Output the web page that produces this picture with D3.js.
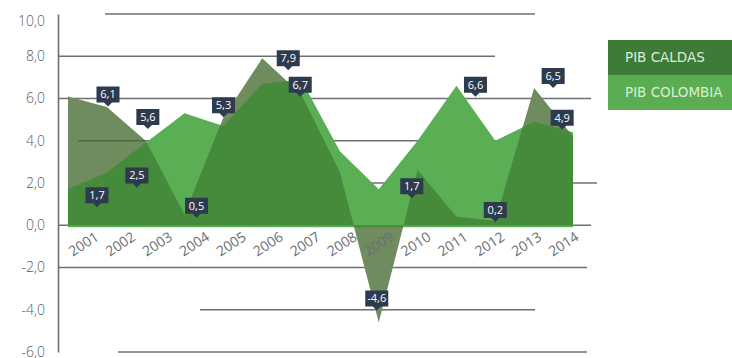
<!DOCTYPE html>
<html>
<head>
<meta charset="utf-8">
<script src="https://cdn.jsdelivr.net/npm/d3@7"></script>
<style>
  html, body { margin: 0; padding: 0; background: #ffffff; }
  svg { display: block; font-family: "Open Sans", Lato, sans-serif; }
</style>
</head>
<body>
<svg id="chart" width="732" height="358"></svg>
<script>
// Annual GDP growth (%), Caldas vs Colombia
const years = [2001, 2002, 2003, 2004, 2005, 2006, 2007, 2008, 2009, 2010, 2011, 2012, 2013, 2014];
const pibCaldas   = [6.1, 5.6, 4.0, 0.5, 5.1, 7.9, 6.2, 2.5, -4.6, 2.6, 0.4, 0.2, 6.5, 4.2];
const pibColombia = [1.7, 2.5, 3.9, 5.3, 4.7, 6.7, 6.9, 3.5, 1.7, 4.0, 6.6, 4.0, 4.9, 4.4];
const yTicks = [-6, -4, -2, 0, 2, 4, 6, 8, 10];
const seriesNames = ["PIB CALDAS", "PIB COLOMBIA"];

// Years that carry a value tag, per series
const caldasTagYears   = [2001, 2002, 2004, 2006, 2009, 2012, 2013];
const colombiaTagYears = [2001, 2002, 2004, 2006, 2009, 2011, 2013];

// Tag pointer nudges in px relative to the point [dx, dy]
const caldasTagNudge   = [[40, 10], [41, 22], [12, 3], [26, 12], [-2, -12], [0, 1], [19, 0]];
const colombiaTagNudge = [[29, 18], [30, 15], [39, 4], [38, 13], [33, 9], [19, 11], [28, 8]];

// Horizontal rule segments: [value, x-start, x-end] in px
const rules = [
  [10, 105, 535], [8, 58, 495], [6, 58, 591], [4, 78, 520],
  [2, 300, 597], [0, 58, 591], [-2, 58, 587], [-4, 200, 535], [-6, 118, 587]
];

const C = {
  light: "#5aae54",
  dark: "#468a3c",
  olive: "#6f8c5e",
  rule: "#6b7075",
  legendDark: "#3e7b36",
  legendLight: "#5aad51",
  tag: "#2c3b4d",
  text: "#575c61",
  xText: "#6a6f74"
};

const svg = d3.select("#chart");
const fmt = d3.formatLocale({ decimal: ",", thousands: ".", grouping: [3], currency: ["", ""], minus: "-" }).format(".1f");

const x = d3.scalePoint().domain(years).range([68, 573]);
const xLabel = d3.scalePoint().domain(years).range([83, 563]);
const y = d3.scaleLinear().domain([-6, 10]).range([352, 14]);

// rules behind the areas
svg.append("g").selectAll("line").data(rules).join("line")
  .attr("x1", d => d[1]).attr("x2", d => d[2])
  .attr("y1", d => y(d[0])).attr("y2", d => y(d[0]))
  .attr("stroke", C.rule).attr("stroke-width", 1.6);

const colData = years.map((yr, i) => ({ yr, v: pibColombia[i] }));
const calData = years.map((yr, i) => ({ yr, v: pibCaldas[i] }));

const colArea = d3.area().x(d => x(d.yr)).y0(y(0) + 2).y1(d => y(d.v));
const calArea = d3.area().x(d => x(d.yr)).y0(y(0)).y1(d => y(d.v));

const defs = svg.append("defs");
defs.append("clipPath").attr("id", "colClip")
  .append("path").attr("d", colArea(colData));

svg.append("path").attr("d", colArea(colData)).attr("fill", C.light);
svg.append("path").attr("d", calArea(calData)).attr("fill", C.olive);
svg.append("path").attr("d", calArea(calData)).attr("fill", C.dark)
  .attr("clip-path", "url(#colClip)");

// short rule that sits over the Caldas area
svg.append("line")
  .attr("x1", 78).attr("x2", x(2003))
  .attr("y1", y(4)).attr("y2", y(4))
  .attr("stroke", "#4d6a47").attr("stroke-width", 1.6);

// y axis
const yAxis = svg.append("g").attr("transform", "translate(58,0)")
  .call(d3.axisLeft(y).tickValues(yTicks).tickSize(0).tickSizeOuter(0).tickPadding(13).tickFormat(fmt));
yAxis.select(".domain").attr("stroke", C.rule).attr("stroke-width", 1.6);
yAxis.selectAll("text").attr("fill", C.text).style("font-size", "14px")
  .style("font-family", "'Open Sans', sans-serif").style("font-weight", 300);
// the top label sits a little below its rule
yAxis.selectAll(".tick").filter(d => d === 10).select("text").attr("y", 7);

// x labels
const xAxis = svg.append("g").attr("transform", "translate(0,244)")
  .call(d3.axisBottom(xLabel).tickSize(0).tickFormat(d3.format("d")));
xAxis.select(".domain").remove();
xAxis.selectAll("text")
  .attr("y", 0).attr("dy", "0.35em")
  .attr("text-anchor", "middle")
  .attr("transform", "rotate(-33)")
  .attr("fill", C.xText).style("font-size", "14px")
  .style("font-family", "'Open Sans', sans-serif").style("font-weight", 400);

// value tags
function tags(tagYears, nudges, values) {
  const g = svg.append("g");
  tagYears.forEach((yr, k) => {
    const i = years.indexOf(yr);
    const v = values[i];
    const tx = x(yr) + nudges[k][0];
    const ty = y(v) + nudges[k][1];
    const w = 23, h = 16, p = 4;
    const t = g.append("g").attr("transform", `translate(${tx},${ty})`);
    t.append("path")
      .attr("d", `M${-w / 2},${-p - h}H${w / 2}V${-p}H4L0,0L-4,${-p}H${-w / 2}Z`)
      .attr("fill", C.tag);
    t.append("text")
      .attr("x", 0).attr("y", -p - h / 2).attr("dy", "0.36em")
      .attr("text-anchor", "middle")
      .attr("fill", "#ffffff")
      .style("font-size", "11px")
      .text(fmt(v));
  });
}
tags(caldasTagYears, caldasTagNudge, pibCaldas);
tags(colombiaTagYears, colombiaTagNudge, pibColombia);

// legend
const legend = svg.append("g").attr("transform", "translate(608,40)");
const legendFill = [C.legendDark, C.legendLight];
seriesNames.forEach((name, i) => {
  legend.append("rect").attr("x", 0).attr("y", i * 35).attr("width", 124).attr("height", 35)
    .attr("fill", legendFill[i]);
  legend.append("text").attr("x", 17).attr("y", i * 35 + 17.5).attr("dy", "0.36em")
    .attr("fill", "#dcecd6").style("font-size", "13.5px")
    .style("font-family", "'DejaVu Sans', sans-serif").style("font-weight", 400)
    .text(name);
});
</script>
</body>
</html>
